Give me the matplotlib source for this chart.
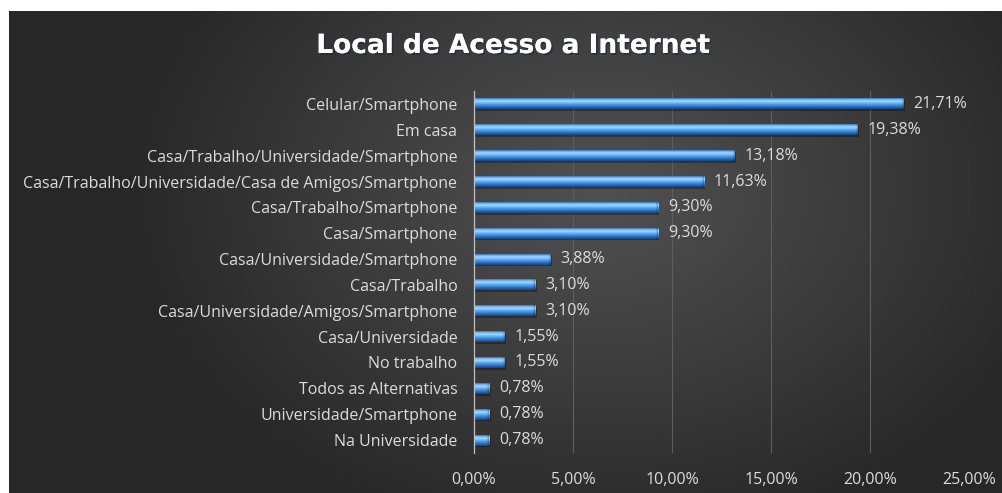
import numpy as np
import matplotlib.pyplot as plt
from matplotlib.colors import LinearSegmentedColormap
from matplotlib import patheffects

categorias = [
    "Celular/Smartphone",
    "Em casa",
    "Casa/Trabalho/Universidade/Smartphone",
    "Casa/Trabalho/Universidade/Casa de Amigos/Smartphone",
    "Casa/Trabalho/Smartphone",
    "Casa/Smartphone",
    "Casa/Universidade/Smartphone",
    "Casa/Trabalho",
    "Casa/Universidade/Amigos/Smartphone",
    "Casa/Universidade",
    "No trabalho",
    "Todos as Alternativas",
    "Universidade/Smartphone",
    "Na Universidade",
]
valores = [21.71, 19.38, 13.18, 11.63, 9.30, 9.30, 3.88, 3.10, 3.10, 1.55, 1.55, 0.78, 0.78, 0.78]
ticks_x = [0, 5, 10, 15, 20, 25]

W, H, DPI = 1003, 493, 100
plt.rcParams['font.family'] = ['Open Sans', 'DejaVu Sans']
txt = '#dcdcdc'

fig = plt.figure(figsize=(W / DPI, H / DPI), dpi=DPI, facecolor='white')

# fundo escuro com gradiente radial
x0, y0 = 9, 11
bg = fig.add_axes([x0 / W, 0, (W - x0) / W, (H - y0) / H])
bg.set_axis_off()
yy, xx = np.mgrid[y0:H, x0:W]
d = np.sqrt(((xx - 600) / 480.0) ** 2 + ((yy - 190) / 360.0) ** 2)
d = np.clip(d, 0, 1) ** 1.1
v = (0x50 - (0x50 - 0x27) * d) / 255.0
bg.imshow(np.dstack([v, v, v]), aspect='auto', interpolation='bilinear')

# titulo
fig.text(513 / W, 1 - 46 / H, "Local de Acesso a Internet", ha='center', va='center',
         color='white', fontsize=19, fontweight='bold', family=['DejaVu Sans'],
         path_effects=[patheffects.withSimplePatchShadow(offset=(1.2, -1.2), shadow_rgbFace='#1a2a40', alpha=0.7),
                       patheffects.Normal()])

ax = fig.add_axes([474 / W, 1 - 453 / H, (969 - 474) / W, (453 - 91) / H])
ax.patch.set_alpha(0)
n = len(categorias)
ypos = np.arange(n)
alt = 0.42

cmap_barra = LinearSegmentedColormap.from_list('barra', [
    (0.0, '#17407a'), (0.22, '#2c72c8'), (0.5, '#5aacf2'),
    (0.72, '#a9dbff'), (0.88, '#72b4f0'), (1.0, '#3468a8')])
grad = np.linspace(1, 0, 64).reshape(-1, 1)

# sombras
ax.barh(ypos + 0.07, valores, height=alt, left=0.06, color='black', alpha=0.3, zorder=2)
barras = ax.barh(ypos, valores, height=alt, color='#4a9ae6', zorder=3)
for r in barras:
    bx, by, bw, bh = r.get_x(), r.get_y(), r.get_width(), r.get_height()
    im = ax.imshow(grad, cmap=cmap_barra, aspect='auto', interpolation='bicubic',
                   extent=(bx, bx + bw, by + bh, by), zorder=4)
    im.set_clip_path(r)
    # sombreado suave na ponta da barra
    cap = np.linspace(0, 1, 32).reshape(1, -1) ** 3 * 0.35
    rgba = np.zeros((1, 32, 4))
    rgba[..., 2] = 0.2
    rgba[..., 3] = cap
    w_cap = min(0.2, bw * 0.5)
    im2 = ax.imshow(rgba, aspect='auto', interpolation='bicubic',
                    extent=(bx + bw - w_cap, bx + bw, by + bh, by), zorder=5)
    im2.set_clip_path(r)

for yv, val in zip(ypos, valores):
    ax.annotate(f"{val:.2f}%".replace('.', ','), xy=(val, yv), xytext=(7, 0),
                textcoords='offset points', va='center', ha='left',
                color=txt, fontsize=11.5, zorder=6)

ax.set_xlim(0, 25)
ax.set_ylim(n - 0.5, -0.5)
ax.set_xticks(ticks_x)
ax.set_xticklabels([f"{t:.2f}%".replace('.', ',') for t in ticks_x])
ax.set_yticks(ypos)
ax.set_yticklabels(categorias)
ax.tick_params(axis='both', length=0, colors=txt, labelsize=11.5)
ax.tick_params(axis='y', pad=12)
ax.tick_params(axis='x', pad=14)
ax.grid(axis='x', color='#5e5e5e', linewidth=0.8, zorder=1)
ax.set_axisbelow(True)
for s in ['top', 'right', 'bottom']:
    ax.spines[s].set_visible(False)
ax.spines['left'].set_color('#bfbfbf')
ax.spines['left'].set_linewidth(0.9)
ax.spines['left'].set_zorder(7)

fig.savefig('out.png', dpi=DPI, facecolor='white')
